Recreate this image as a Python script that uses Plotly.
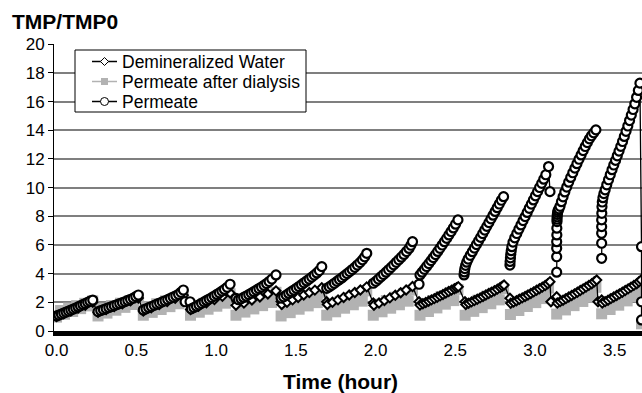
import plotly.graph_objects as go

# ---------------- data ----------------
# Permeate: one list per filtration cycle
perm_t = [
    [0.000,0.015,0.030,0.045,0.060,0.075,0.090,0.105,0.120,0.135,0.150,0.165,0.180,0.195,0.210,0.227],
    [0.260,0.277,0.294,0.311,0.328,0.345,0.362,0.379,0.396,0.413,0.430,0.447,0.464,0.481,0.497,0.513],
    [0.544,0.561,0.578,0.595,0.612,0.629,0.646,0.663,0.680,0.697,0.714,0.731,0.748,0.765,0.780,0.795,0.806,0.837],
    [0.845,0.861,0.877,0.893,0.909,0.925,0.941,0.957,0.973,0.989,1.005,1.021,1.037,1.053,1.070,1.088],
    [1.125,1.141,1.157,1.173,1.189,1.205,1.221,1.237,1.253,1.269,1.285,1.301,1.317,1.333,1.350,1.376],
    [1.408,1.424,1.440,1.456,1.472,1.488,1.504,1.520,1.536,1.552,1.568,1.584,1.600,1.616,1.632,1.648,1.663],
    [1.694,1.710,1.726,1.742,1.758,1.774,1.790,1.806,1.822,1.838,1.854,1.870,1.886,1.902,1.918,1.932,1.945],
    [1.986,2.002,2.018,2.034,2.050,2.066,2.082,2.098,2.114,2.130,2.146,2.162,2.178,2.194,2.210,2.222,2.232],
    [2.273,2.279,2.292,2.306,2.320,2.334,2.348,2.362,2.376,2.390,2.404,2.418,2.432,2.446,2.460,2.474,2.488,2.502,2.517],
    [2.555,2.557,2.560,2.565,2.572,2.581,2.594,2.607,2.620,2.633,2.646,2.659,2.672,2.685,2.698,2.711,2.724,2.737,2.750,2.763,2.776,2.789,2.803],
    [2.843,2.844,2.846,2.848,2.851,2.855,2.862,2.873,2.886,2.899,2.912,2.925,2.938,2.951,2.964,2.977,2.990,3.003,3.016,3.029,3.042,3.055,3.068,3.085,3.094],
    [3.136,3.136,3.136,3.136,3.137,3.137,3.138,3.138,3.139,3.140,3.142,3.145,3.150,3.157,3.166,3.176,3.187,3.199,3.211,3.224,3.237,3.250,3.263,3.276,3.289,3.302,3.315,3.328,3.341,3.354,3.368,3.382],
    [3.418,3.418,3.418,3.418,3.418,3.419,3.420,3.422,3.426,3.432,3.440,3.450,3.461,3.472,3.483,3.494,3.505,3.516,3.527,3.538,3.549,3.560,3.571,3.582,3.593,3.604,3.615,3.626,3.637,3.648,3.658,3.668,3.668,3.668],
]
perm_v = [
    [1.05,1.11,1.18,1.25,1.32,1.39,1.46,1.53,1.60,1.68,1.76,1.84,1.92,2.00,2.08,2.16],
    [1.35,1.42,1.49,1.56,1.63,1.70,1.77,1.84,1.91,1.98,2.05,2.13,2.21,2.29,2.40,2.51],
    [1.47,1.55,1.63,1.71,1.79,1.87,1.95,2.03,2.11,2.19,2.28,2.37,2.46,2.56,2.70,2.86,2.04,2.04],
    [1.55,1.64,1.73,1.83,1.93,2.03,2.13,2.23,2.33,2.44,2.55,2.66,2.78,2.90,3.05,3.26],
    [2.28,2.18,2.25,2.34,2.44,2.54,2.64,2.74,2.85,2.96,3.07,3.19,3.31,3.45,3.62,3.91],
    [2.30,2.38,2.50,2.62,2.74,2.86,2.98,3.10,3.23,3.36,3.49,3.62,3.76,3.90,4.05,4.22,4.49],
    [2.98,3.08,3.20,3.33,3.46,3.59,3.72,3.86,4.00,4.14,4.29,4.44,4.60,4.77,4.96,5.17,5.42],
    [3.33,3.46,3.62,3.78,3.94,4.10,4.27,4.44,4.61,4.79,4.97,5.15,5.34,5.54,5.76,5.98,6.23],
    [3.26,3.91,4.10,4.30,4.50,4.70,4.91,5.12,5.33,5.55,5.77,6.00,6.23,6.46,6.70,6.94,7.19,7.45,7.75],
    [3.91,4.12,4.35,4.58,4.80,5.02,5.28,5.53,5.78,6.03,6.28,6.53,6.79,7.04,7.30,7.56,7.82,8.08,8.34,8.60,8.86,9.12,9.37],
    [4.60,4.85,5.10,5.35,5.60,5.88,6.20,6.50,6.80,7.10,7.40,7.70,7.98,8.27,8.56,8.85,9.14,9.43,9.72,10.01,10.30,10.59,10.90,11.47,9.72],
    [4.10,5.18,5.77,6.23,6.70,7.17,7.63,7.80,7.97,8.13,8.28,8.40,8.52,8.70,9.02,9.36,9.70,10.04,10.38,10.71,11.04,11.36,11.67,11.98,12.28,12.58,12.87,13.14,13.40,13.62,13.82,14.03],
    [5.07,6.12,6.82,7.28,7.75,8.21,8.67,9.00,9.30,9.58,9.85,10.20,10.55,10.90,11.25,11.58,11.90,12.22,12.55,12.88,13.22,13.57,13.93,14.30,14.68,15.06,15.45,15.85,16.30,16.78,17.29,5.88,2.04,0.77],
]

# Permeate after dialysis (grey band: alternating lower / upper edge of the band)
gray_t = [
    [0.000,0.025,0.050,0.076,0.101,0.126,0.151,0.177,0.202,0.227],
    [0.260,0.288,0.316,0.344,0.372,0.401,0.429,0.457,0.485,0.513],
    [0.544,0.572,0.600,0.628,0.656,0.683,0.711,0.739,0.767,0.795],
    [0.840,0.868,0.895,0.923,0.950,0.978,1.005,1.033,1.060,1.088],
    [1.125,1.153,1.181,1.209,1.237,1.264,1.292,1.320,1.348,1.376],
    [1.408,1.436,1.465,1.493,1.521,1.550,1.578,1.606,1.635,1.663],
    [1.694,1.722,1.750,1.778,1.806,1.833,1.861,1.889,1.917,1.945],
    [1.986,2.013,2.041,2.068,2.095,2.123,2.150,2.177,2.205,2.232],
    [2.279,2.305,2.332,2.358,2.385,2.411,2.438,2.464,2.491,2.517],
    [2.562,2.589,2.616,2.642,2.669,2.696,2.723,2.750,2.776,2.803],
    [2.846,2.873,2.899,2.926,2.952,2.979,3.005,3.032,3.059,3.085],
    [3.136,3.163,3.191,3.218,3.245,3.273,3.300,3.327,3.355,3.382],
    [3.418,3.445,3.471,3.498,3.525,3.551,3.578,3.605,3.631,3.658],
    [3.668],
]
gray_v = [
    [0.97,1.43,1.17,1.60,1.36,1.77,1.56,1.93,1.75,2.10],
    [1.05,1.59,1.25,1.77,1.45,1.94,1.65,2.12,1.85,2.30],
    [1.10,1.70,1.30,1.90,1.50,2.10,1.70,2.30,1.90,2.50],
    [1.10,1.71,1.31,1.93,1.52,2.16,1.73,2.38,1.94,2.60],
    [1.10,1.81,1.32,2.03,1.54,2.26,1.77,2.48,1.99,2.70],
    [1.05,1.81,1.28,2.03,1.52,2.26,1.75,2.48,1.98,2.70],
    [1.10,1.82,1.34,2.07,1.59,2.31,1.83,2.56,2.08,2.80],
    [1.10,1.87,1.34,2.12,1.59,2.36,1.83,2.61,2.08,2.85],
    [1.10,1.88,1.36,2.13,1.61,2.39,1.87,2.64,2.12,2.90],
    [1.10,1.88,1.37,2.15,1.63,2.42,1.90,2.68,2.17,2.95],
    [1.15,1.93,1.43,2.20,1.71,2.47,1.98,2.73,2.26,3.00],
    [1.18,1.94,1.47,2.22,1.77,2.49,2.06,2.77,2.35,3.05],
    [1.20,1.94,1.50,2.23,1.80,2.52,2.10,2.81,2.40,3.10],
    [0.50],
]

# Demineralized water
demin_t = [
    [0.000,0.045,0.090,0.135,0.180,0.227],
    [0.260,0.311,0.362,0.413,0.464,0.513],
    [0.544,0.594,0.644,0.694,0.744,0.795],
    [0.840,0.890,0.940,0.990,1.040,1.088],
    [1.125,1.175,1.225,1.275,1.325,1.376],
    [1.408,1.412,1.445,1.480,1.515,1.550,1.585,1.620,1.663],
    [1.694,1.698,1.730,1.765,1.800,1.835,1.870,1.905,1.945],
    [1.986,1.990,2.022,2.056,2.090,2.124,2.158,2.192,2.232],
    [2.273,2.279,2.297,2.315,2.333,2.351,2.369,2.387,2.405,2.423,2.441,2.459,2.477,2.495,2.508,2.519],
    [2.561,2.566,2.584,2.602,2.620,2.638,2.656,2.674,2.692,2.710,2.728,2.746,2.764,2.782,2.795,2.806],
    [2.843,2.848,2.866,2.884,2.902,2.920,2.938,2.956,2.974,2.992,3.010,3.028,3.046,3.064,3.080,3.094,3.100],
    [3.136,3.140,3.158,3.176,3.194,3.212,3.230,3.248,3.266,3.284,3.302,3.320,3.338,3.356,3.372,3.387,3.395],
    [3.418,3.422,3.440,3.458,3.476,3.494,3.512,3.530,3.548,3.566,3.584,3.602,3.620,3.638,3.652,3.665],
]
demin_v = [
    [1.00,1.20,1.40,1.60,1.80,2.00],
    [1.30,1.50,1.70,1.90,2.10,2.30],
    [1.40,1.62,1.84,2.06,2.28,2.50],
    [1.50,1.73,1.96,2.19,2.42,2.65],
    [1.80,1.95,2.16,2.37,2.58,2.80],
    [2.05,1.85,2.00,2.17,2.34,2.51,2.68,2.85,3.02],
    [2.04,1.85,2.00,2.17,2.34,2.51,2.68,2.86,3.08],
    [1.95,1.80,1.95,2.13,2.31,2.49,2.67,2.86,3.10],
    [2.04,1.81,1.90,1.99,2.08,2.17,2.26,2.35,2.45,2.55,2.65,2.75,2.85,2.95,3.02,3.09],
    [2.04,1.85,1.94,2.03,2.12,2.21,2.31,2.41,2.51,2.61,2.71,2.81,2.92,3.03,3.12,3.21],
    [2.28,1.93,2.02,2.11,2.21,2.31,2.41,2.51,2.62,2.73,2.84,2.95,3.06,3.17,3.30,3.44,2.04],
    [2.39,1.95,2.05,2.15,2.26,2.37,2.48,2.59,2.70,2.82,2.94,3.06,3.18,3.30,3.43,3.56,2.04],
    [2.16,1.95,2.05,2.15,2.26,2.37,2.48,2.59,2.70,2.82,2.94,3.06,3.18,3.30,3.43,3.56],
]

series_names = ["Demineralized Water", "Permeate after dialysis", "Permeate"]
x_tick_vals = [0.0, 0.5, 1.0, 1.5, 2.0, 2.5, 3.0, 3.5]
x_tick_text = ["0.0", "0.5", "1.0", "1.5", "2.0", "2.5", "3.0", "3.5"]
y_tick_vals = [0, 2, 4, 6, 8, 10, 12, 14, 16, 18, 20]


def joined(nested, gaps):
    """Flatten cycles; insert a break (None) between cycles when gaps=True."""
    out = []
    for i, seg in enumerate(nested):
        if gaps and i > 0:
            out.append(None)
        out.extend(seg)
    return out


FONT = "Liberation Sans, Arial, sans-serif"
GRAY = "#b2b2b2"
L, T, PW, PH = 54, 44, 588, 287   # plot area in pixels


def px(x):
    return (x - L) / PW


def py(y):
    return (T + PH - y) / PH


fig = go.Figure()
fig.add_trace(go.Scatter(
    x=joined(gray_t, True), y=joined(gray_v, True), name=series_names[1],
    mode="lines+markers", line=dict(color=GRAY, width=2),
    marker=dict(symbol="square", size=11, color=GRAY, line=dict(width=0)),
    showlegend=False,
))
fig.add_trace(go.Scatter(
    x=joined(demin_t, False), y=joined(demin_v, False), name=series_names[0],
    mode="lines+markers", line=dict(color="black", width=1.3),
    marker=dict(symbol="diamond", size=7, color="white", line=dict(color="black", width=2)),
    showlegend=False,
))
fig.add_trace(go.Scatter(
    x=joined(perm_t, True), y=joined(perm_v, True), name=series_names[2],
    mode="lines+markers", line=dict(color="black", width=1.3),
    marker=dict(symbol="circle", size=9, color="white", line=dict(color="black", width=2.2)),
    showlegend=False,
))

# ---- legend box drawn as paper-positioned decorations ----
shapes = [dict(type="rect", xref="paper", yref="paper",
               x0=px(75), x1=px(306), y0=py(112), y1=py(50),
               fillcolor="white", line=dict(color="black", width=1), layer="above")]
annotations = []
row_y = [61.5, 81.5, 101.5]
sym_x0, sym_x1, sym_xc = 92, 117, 104.5
line_cols = ["black", GRAY, "black"]
for i, (name, yy) in enumerate(zip(series_names, row_y)):
    shapes.append(dict(type="line", xref="paper", yref="paper",
                       x0=px(sym_x0), x1=px(sym_x1), y0=py(yy), y1=py(yy),
                       line=dict(color=line_cols[i], width=1.5), layer="above"))
    annotations.append(dict(text=name, xref="paper", yref="paper",
                            x=px(120), y=py(yy), xanchor="left", yanchor="middle",
                            showarrow=False, font=dict(size=17.5, family=FONT, color="black")))
# diamond
d = 4
shapes.append(dict(type="path", xref="paper", yref="paper",
                   path=f"M {px(sym_xc-d)} {py(row_y[0])} L {px(sym_xc)} {py(row_y[0]-d)} "
                        f"L {px(sym_xc+d)} {py(row_y[0])} L {px(sym_xc)} {py(row_y[0]+d)} Z",
                   fillcolor="white", line=dict(color="black", width=1), layer="above"))
# square
s = 3.5
shapes.append(dict(type="rect", xref="paper", yref="paper",
                   x0=px(sym_xc-s), x1=px(sym_xc+s), y0=py(row_y[1]+s), y1=py(row_y[1]-s),
                   fillcolor=GRAY, line=dict(width=0), layer="above"))
# circle
c = 4
shapes.append(dict(type="circle", xref="paper", yref="paper",
                   x0=px(sym_xc-c), x1=px(sym_xc+c), y0=py(row_y[2]+c), y1=py(row_y[2]-c),
                   fillcolor="white", line=dict(color="black", width=1), layer="above"))

annotations += [
    dict(text="<b>TMP/TMP0</b>", xref="paper", yref="paper",
         x=px(10), y=py(22), xanchor="left", yanchor="middle",
         showarrow=False, font=dict(size=21, family=FONT, color="black")),
    dict(text="<b>Time (hour)</b>", xref="paper", yref="paper",
         x=px(340), y=py(381), xanchor="center", yanchor="middle",
         showarrow=False, font=dict(size=21, family=FONT, color="black")),
]

fig.update_layout(
    width=642, height=393,
    margin=dict(l=L, r=642 - L - PW, t=T, b=393 - T - PH),
    plot_bgcolor="white", paper_bgcolor="white",
    font=dict(family=FONT, size=17, color="black"),
    showlegend=False,
    xaxis=dict(
        range=[-0.016, 3.671], tickvals=x_tick_vals, ticktext=x_tick_text,
        showgrid=False, zeroline=False, showline=True, linecolor="black", linewidth=5,
        ticks="", tickfont=dict(size=17, family=FONT),
    ),
    yaxis=dict(
        range=[0, 20.02], tickvals=y_tick_vals,
        showgrid=True, gridcolor="#7f7f7f", gridwidth=1.5, zeroline=False,
        showline=True, linecolor="black", linewidth=1,
        ticks="outside", ticklen=5, tickcolor="black", tickwidth=1,
        tickfont=dict(size=17, family=FONT),
    ),
    shapes=shapes,
    annotations=annotations,
)

fig.write_html("out.html")
